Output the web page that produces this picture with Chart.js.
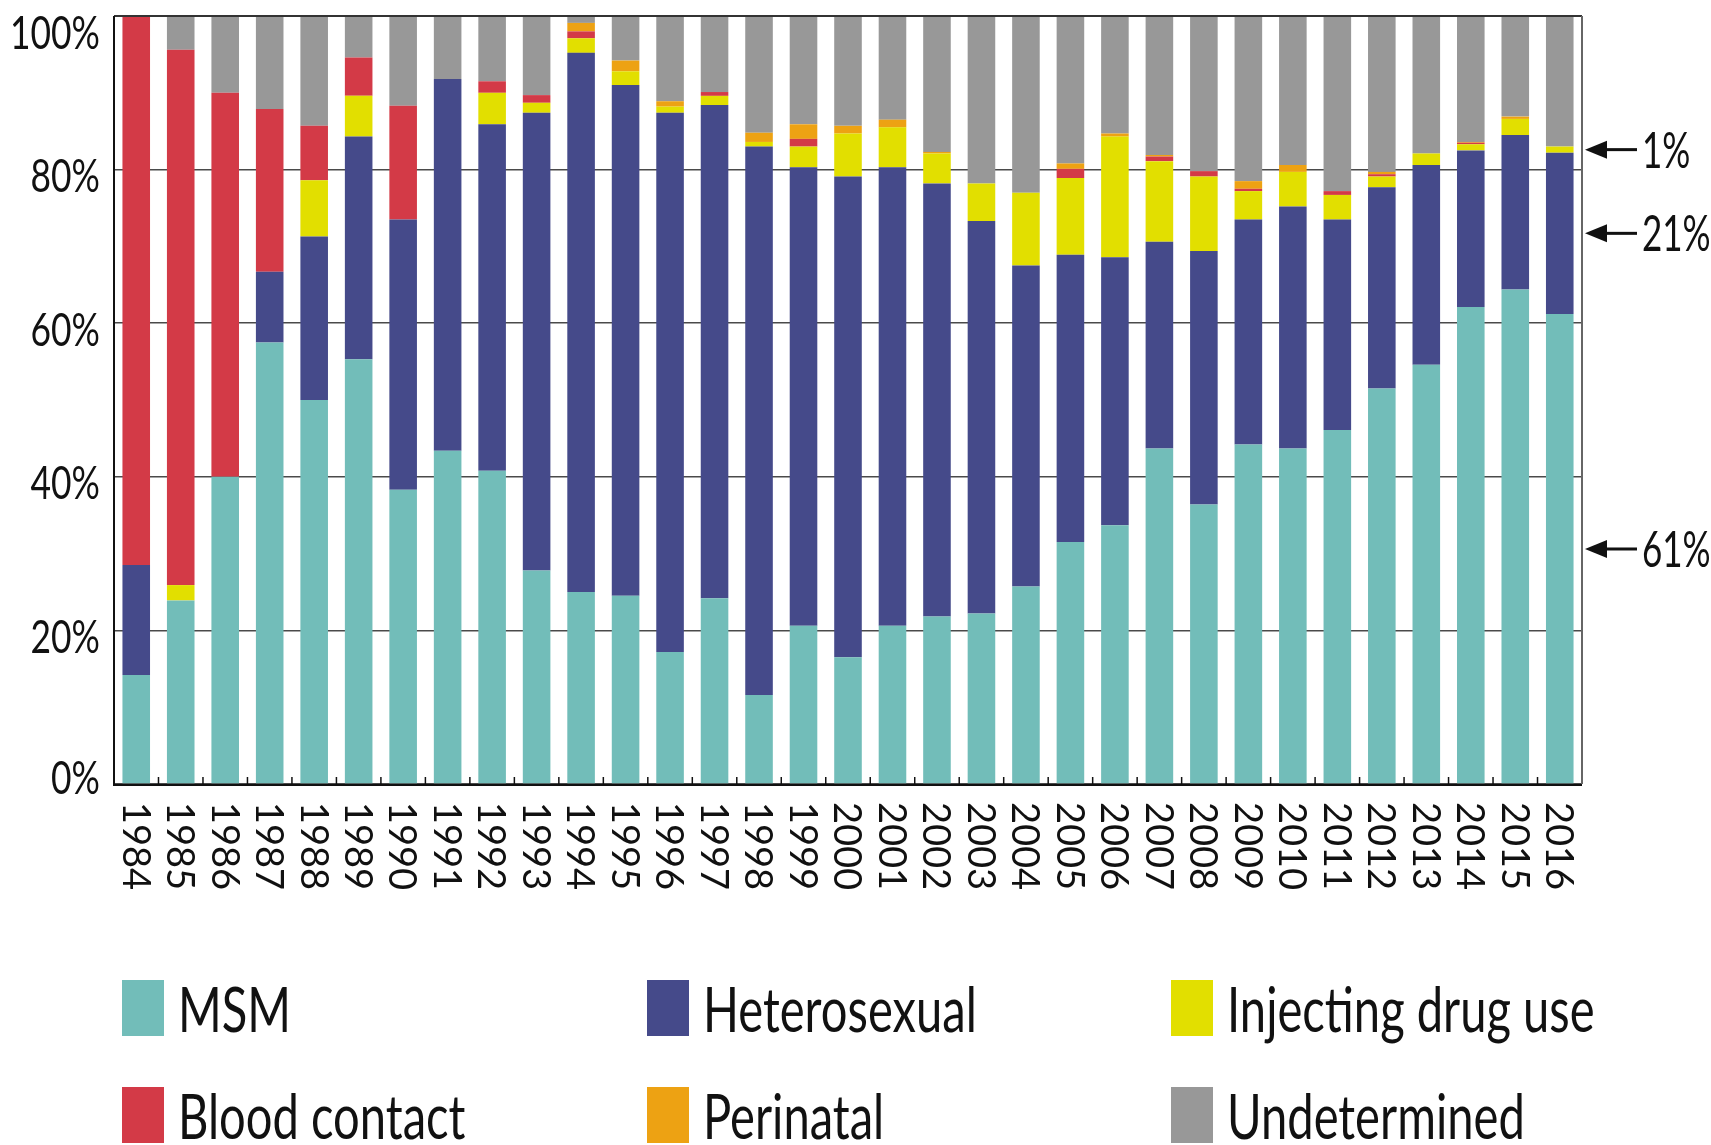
<!DOCTYPE html>
<html>
<head>
<meta charset="utf-8">
<script src="https://cdn.jsdelivr.net/npm/chart.js@4.4.1/dist/chart.umd.min.js"></script>
<style>
  body { margin: 0; background: #fff; }
  #wrap { position: relative; width: 1711px; height: 1145px; overflow: hidden; }
  .item { position: absolute; display: flex; align-items: center; white-space: nowrap;
          font-family: Lato, sans-serif; font-size: 62px; line-height: 56px; color: #111; }
  .sw { width: 42px; height: 56px; margin-right: 14px; flex: none; }
  .txt { display: inline-block; transform: scaleX(0.76); transform-origin: left center; }
</style>
</head>
<body>
<div id="wrap">
  <canvas id="chart" width="1711" height="1145"></canvas>
</div>
<script>
var years = ['1984','1985','1986','1987','1988','1989','1990','1991','1992','1993','1994',
             '1995','1996','1997','1998','1999','2000','2001','2002','2003','2004','2005',
             '2006','2007','2008','2009','2010','2011','2012','2013','2014','2015','2016'];

var msm          = [14.2, 23.9, 40.0, 57.5, 50.0, 55.3, 38.3, 43.4, 40.8, 27.8, 25.0,
                    24.5, 17.2, 24.2, 11.6, 20.6, 16.5, 20.6, 21.8, 22.2, 25.7, 31.5,
                    33.7, 43.7, 36.4, 44.2, 43.7, 46.1, 51.5, 54.6, 62.1, 64.4, 61.2];
var heterosexual = [14.3, 0, 0, 9.2, 21.3, 29.0, 35.2, 48.4, 45.1, 59.6, 70.2,
                    66.5, 70.2, 64.2, 71.4, 59.7, 62.6, 59.7, 56.4, 51.1, 41.8, 37.4,
                    34.9, 26.9, 33.0, 29.3, 31.5, 27.4, 26.2, 26.0, 20.4, 20.1, 21.0];
var injecting    = [0, 2.0, 0, 0, 7.3, 5.3, 0, 0, 4.1, 1.3, 1.9,
                    1.8, 0.8, 1.2, 0.6, 2.7, 5.6, 5.2, 3.9, 4.9, 9.5, 10.0,
                    15.7, 10.5, 9.7, 3.7, 4.5, 3.2, 1.4, 1.5, 0.8, 2.1, 0.8];
var blood        = [71.5, 69.7, 50.0, 21.2, 7.1, 5.0, 14.8, 0, 1.5, 1.0, 0.9,
                    0, 0, 0.5, 0, 1.0, 0, 0, 0, 0, 0, 1.2,
                    0, 0.6, 0.7, 0.3, 0, 0.5, 0.3, 0, 0.2, 0, 0];
var perinatal    = [0, 0, 0, 0, 0, 0, 0, 0, 0, 0, 1.1,
                    1.4, 0.7, 0, 1.2, 1.9, 1.0, 1.0, 0.2, 0, 0, 0.7,
                    0.4, 0.2, 0, 1.0, 0.9, 0, 0.3, 0, 0.1, 0.3, 0];
var undetermined = [0, 4.4, 10.0, 12.1, 14.3, 5.4, 11.7, 8.2, 8.5, 10.3, 0.9,
                    5.8, 11.1, 9.9, 15.2, 14.1, 14.3, 13.5, 17.7, 21.8, 23.0, 19.2,
                    15.3, 18.1, 20.2, 21.5, 19.4, 22.8, 20.3, 17.9, 16.4, 13.1, 17.0];

var yTicks = [0, 20, 40, 60, 80, 100];

var series = [
  { label: 'MSM', data: msm, color: '#72bdb9' },
  { label: 'Heterosexual', data: heterosexual, color: '#454a8a' },
  { label: 'Injecting drug use', data: injecting, color: '#e2df00' },
  { label: 'Blood contact', data: blood, color: '#d33a47' },
  { label: 'Perinatal', data: perinatal, color: '#eda213' },
  { label: 'Undetermined', data: undetermined, color: '#989898' }
];

// text squeezed sideways to look like the condensed face of the original
function narrowText(ctx, text, x, y, sx) {
  ctx.save();
  ctx.translate(x, y);
  ctx.scale(sx, 1);
  ctx.fillText(text, 0, 0);
  ctx.restore();
}

var decorations = {
  id: 'decorations',
  afterDatasetsDraw: function (chart) {
    var ctx = chart.ctx, a = chart.chartArea;
    var xs = chart.scales.x, ys = chart.scales.y;
    ctx.save();

    // frame
    ctx.lineWidth = 2;
    ctx.strokeStyle = '#333';
    ctx.beginPath(); ctx.moveTo(a.left, a.top); ctx.lineTo(a.right, a.top); ctx.stroke();
    ctx.strokeStyle = '#666';
    ctx.beginPath(); ctx.moveTo(a.right, a.top); ctx.lineTo(a.right, a.bottom); ctx.stroke();
    ctx.strokeStyle = '#111';
    ctx.beginPath(); ctx.moveTo(a.left, a.top); ctx.lineTo(a.left, a.bottom + 1);
    ctx.lineTo(a.right, a.bottom + 1); ctx.stroke();

    // small inward ticks between categories
    ctx.lineWidth = 1.5;
    for (var i = 1; i < years.length; i++) {
      var bx = (xs.getPixelForValue(i - 1) + xs.getPixelForValue(i)) / 2;
      ctx.beginPath(); ctx.moveTo(bx, a.bottom); ctx.lineTo(bx, a.bottom - 7); ctx.stroke();
    }

    // y labels
    ctx.fillStyle = '#111';
    ctx.font = '46px Lato, sans-serif';
    ctx.textAlign = 'right';
    ctx.textBaseline = 'alphabetic';
    yTicks.forEach(function (t) {
      var py = ys.getPixelForValue(t) + 6;
      py = Math.max(a.top + 16, Math.min(a.bottom - 7, py));
      narrowText(ctx, t + '%', a.left - 14, py + 46 * 0.36, 0.77);
    });

    // year labels, rotated clockwise
    ctx.font = '38px Lato, sans-serif';
    ctx.textAlign = 'left';
    years.forEach(function (yr, i) {
      ctx.save();
      ctx.translate(xs.getPixelForValue(i), a.bottom + 18);
      ctx.rotate(Math.PI / 2);
      ctx.fillText(yr, 0, 38 * 0.36);
      ctx.restore();
    });

    // arrows pointing at the last bar's segments
    var last = years.length - 1;
    var base = 0;
    [msm, heterosexual, injecting].forEach(function (arr) {
      var v = arr[last];
      var py = ys.getPixelForValue(base + v / 2);
      base += v;
      var tip = a.right + 3;
      ctx.fillStyle = '#111';
      ctx.strokeStyle = '#111';
      ctx.lineWidth = 3;
      ctx.beginPath();
      ctx.moveTo(tip, py); ctx.lineTo(tip + 22, py - 9); ctx.lineTo(tip + 22, py + 9);
      ctx.closePath(); ctx.fill();
      ctx.beginPath(); ctx.moveTo(tip + 20, py); ctx.lineTo(tip + 52, py); ctx.stroke();
      ctx.font = '50px Lato, sans-serif';
      ctx.textAlign = 'left';
      narrowText(ctx, Math.round(v) + '%', tip + 57, py + 50 * 0.36, 0.7);
    });
    ctx.restore();
  }
};

var ctx = document.getElementById('chart').getContext('2d');
var myChart = new Chart(ctx, {
  type: 'bar',
  data: {
    labels: years,
    datasets: series.map(function (s) {
      return {
        label: s.label,
        data: s.data,
        backgroundColor: s.color,
        borderWidth: 0,
        categoryPercentage: 1,
        barPercentage: 0.62
      };
    })
  },
  options: {
    responsive: false,
    devicePixelRatio: 1,
    animation: false,
    layout: { padding: { left: 114, right: 129, top: 16, bottom: 361 } },
    plugins: { legend: { display: false }, tooltip: { enabled: false } },
    scales: {
      x: {
        stacked: true,
        grid: { display: false, drawTicks: false },
        border: { display: false },
        ticks: { display: false }
      },
      y: {
        stacked: true,
        min: 0,
        max: 100,
        ticks: { display: false, stepSize: 20 },
        grid: { color: '#4a4a4a', lineWidth: 1.5, drawTicks: false },
        border: { display: false }
      }
    }
  },
  plugins: [decorations]
});

// legend, three columns by two rows
var wrap = document.getElementById('wrap');
var colX = [122, 647, 1171];
var rowY = [980, 1087];
series.forEach(function (s, k) {
  var el = document.createElement('div');
  el.className = 'item';
  el.style.left = colX[k % 3] + 'px';
  el.style.top = rowY[Math.floor(k / 3)] + 'px';
  el.innerHTML = '<span class="sw" style="background:' + s.color + '"></span><span class="txt">' + s.label + '</span>';
  wrap.appendChild(el);
});
</script>
</body>
</html>
